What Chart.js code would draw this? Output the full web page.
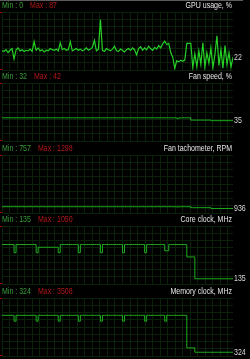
<!DOCTYPE html>
<html lang="en">
<head>
<meta charset="UTF-8" />
<title>Hardware monitor</title>
<style>
  html, body { margin: 0; padding: 0; background: #000; overflow: hidden; }
  body { width: 250px; height: 359px; position: relative; }
  canvas { position: absolute; left: 0; }
</style>
</head>
<body>
<canvas id="panel0" width="250" height="72"></canvas>
<canvas id="panel1" width="250" height="72"></canvas>
<canvas id="panel2" width="250" height="72"></canvas>
<canvas id="panel3" width="250" height="72"></canvas>
<canvas id="panel4" width="250" height="72"></canvas>

<script src="https://cdn.jsdelivr.net/npm/chart.js"></script>
<script>
// sample index (one reading every 2 px of history)
const samples = Array.from({ length: 116 }, (_, i) => i);

const titles = ['GPU usage, %', 'Fan speed, %', 'Fan tachometer, RPM', 'Core clock, MHz', 'Memory clock, MHz'];
const minVals = [0, 32, 757, 135, 324];
const maxVals = [87, 42, 1298, 1050, 3508];
const scaleMax = [100, 100, 12000, 1500, 5000];

const gpuUsage = [
  33, 32, 35, 30, 34, 37, 19, 35, 38, 33, 35, 32, 34, 33, 36, 32,
  49, 34, 38, 33, 35, 31, 34, 33, 37, 35, 34, 36, 33, 47, 35, 37,
  34, 35, 49, 33, 35, 37, 34, 36, 33, 35, 38, 34, 36, 39, 51, 33,
  36, 87, 34, 32, 37, 35, 33, 36, 41, 33, 32, 36, 34, 31, 35, 37,
  34, 38, 35, 26, 37, 40, 34, 38, 35, 41, 37, 34, 39, 36, 42, 38,
  45, 50, 44, 46, 30, 22, 3, 16, 14, 17, 15, 17, 46, 46, 46, 4,
  28, 6, 33, 10, 47, 5, 30, 12, 38, 4, 27, 59, 8, 35, 3, 42, 10, 30, 5, 22
];

const fanSpeed = [
  40, 40, 40, 40, 40, 40, 40, 40, 40, 40,
  40, 40, 40, 40, 40, 40, 40, 40, 40, 40,
  40, 40, 40, 40, 40, 40, 40, 40, 40, 40,
  40, 40, 40, 40, 40, 40, 40, 40, 40, 40,
  40, 40, 40, 40, 40, 40, 40, 40, 40, 40,
  40, 40, 40, 40, 40, 40, 40, 40, 40, 40,
  40, 40, 40, 40, 40, 40, 40, 40, 40, 40,
  40, 40, 40, 40, 40, 40, 40, 40, 40, 40,
  40, 40, 40, 40, 40, 40, 40, 39, 40, 40,
  40, 40, 40, 40, 36, 36, 36, 36, 36, 36,
  36, 36, 36, 36, 35, 35, 35, 35, 35, 35,
  35, 35, 35, 35, 35, 35
];

const fanTach = [
  1298, 1298, 1298, 1298, 1298, 1298, 1298, 1298, 1298, 1298,
  1298, 1298, 1298, 1298, 1298, 1298, 1298, 1298, 1298, 1298,
  1298, 1298, 1298, 1298, 1298, 1298, 1298, 1298, 1298, 1298,
  1298, 1298, 1298, 1298, 1298, 1298, 1298, 1298, 1298, 1298,
  1298, 1298, 1298, 1298, 1298, 1298, 1298, 1298, 1298, 1298,
  1298, 1298, 1298, 1298, 1298, 1298, 1298, 1298, 1298, 1298,
  1298, 1298, 1298, 1298, 1298, 1298, 1298, 1298, 1298, 1298,
  1298, 1298, 1298, 1298, 1298, 1298, 1298, 1298, 1298, 1298,
  1298, 1298, 1298, 1298, 1298, 1298, 1298, 1250, 1298, 1298,
  1298, 1298, 1298, 1298, 1100, 1100, 1100, 1100, 1100, 1100,
  1100, 1100, 1100, 1100, 936, 936, 936, 936, 936, 936,
  936, 936, 936, 936, 936, 936
];

const coreClock = [
  1020, 1020, 1020, 1020, 1020, 1020, 810,
  1020, 1020, 1020, 1020, 1020, 1020, 1020, 1020, 1020, 1020, 810,
  950, 950, 950, 950, 950, 950, 950, 950, 950, 950, 810,
  1020, 1020, 1020, 1020, 1020, 1020, 1020, 1020, 1020, 810,
  1020, 1020, 1020, 1020, 1020, 1020, 1020, 1020, 1020, 1020, 810,
  1020, 1020, 1020, 1020, 1020, 1020, 1020, 1020, 1020, 1020, 810,
  1020, 1020, 1020, 1020, 1020, 1020, 1020, 1020, 1020, 1020, 810,
  1020, 1020, 1020, 1020, 1020, 1020, 1020, 1020, 1020, 860, 860,
  1020, 1020, 1020, 1020, 1020, 1020, 1020, 1020, 1020,
  700, 700, 700, 700,
  135, 135, 135, 135, 135, 135, 135, 135, 135, 135,
  135, 135, 135, 135, 135, 135, 135, 135, 135, 135
];

const memoryClock = [
  3508, 3508, 3508, 3508, 3508, 3508, 3000,
  3508, 3508, 3508, 3508, 3508, 3508, 3508, 3508, 3508, 3508, 3000,
  3508, 3508, 3508, 3508, 3508, 3508, 3508, 3508, 3508, 3508, 3000,
  3508, 3508, 3508, 3508, 3508, 3508, 3508, 3508, 3508, 3000,
  3508, 3508, 3508, 3508, 3508, 3508, 3508, 3508, 3508, 3508, 3000,
  3508, 3508, 3508, 3508, 3508, 3508, 3508, 3508, 3508, 3508, 3000,
  3508, 3508, 3508, 3508, 3508, 3508, 3508, 3508, 3508, 3508, 3000,
  3508, 3508, 3508, 3508, 3508, 3508, 3508, 3508, 3508, 3000,
  3508, 3508, 3508, 3508, 3508, 3508, 3508, 3508, 3508, 3508,
  700, 700, 700, 700,
  324, 324, 324, 324, 324, 324, 324, 324, 324, 324,
  324, 324, 324, 324, 324, 324, 324, 324, 324, 324
];

const series = [gpuUsage, fanSpeed, fanTach, coreClock, memoryClock];
const stepped = [false, 'before', 'before', 'before', 'before'];

// layout / look
const panelTops = [0, 71, 143, 214, 286];
const lineColors = ['#26d026', '#1fae1f', '#1fae1f', '#1fae1f', '#1fae1f'];
const gridColor = '#092209';
const SX = 0.78; // the monitor font is narrow
const FONT = '9px "Liberation Sans", Arial, sans-serif';

const monitorText = {
  id: 'monitorText',
  afterDraw(chart) {
    const k = chart.options.plugins.monitorText.index;
    const ctx = chart.ctx;
    const area = chart.chartArea;

    ctx.save();
    ctx.font = FONT;
    ctx.textBaseline = 'middle';
    ctx.scale(SX, 1);
    const minText = 'Min : ' + minVals[k];
    ctx.textAlign = 'left';
    ctx.fillStyle = '#3a9e3a';
    ctx.fillText(minText, 2 / SX, 6);
    const w = ctx.measureText(minText).width * SX;
    ctx.fillStyle = '#b01818';
    ctx.fillText('Max : ' + maxVals[k], (2 + w + 7) / SX, 6);
    ctx.textAlign = 'right';
    ctx.fillStyle = '#e6e6e6';
    ctx.fillText(titles[k], 232 / SX, 6);

    const data = series[k];
    const last = data[data.length - 1];
    const y = chart.scales.y.getPixelForValue(last);
    ctx.textAlign = 'left';
    ctx.fillStyle = '#d8d8d8';
    ctx.fillText(String(last), (area.right + 1) / SX, y);
    ctx.restore();

    // little red marks at the scale ends
    ctx.fillStyle = '#b00000';
    ctx.fillRect(0, area.top, 2, 1);
    ctx.fillRect(0, area.bottom - 1, 2, 1);
    if (k === 0) {
      ctx.fillStyle = '#5c5c5c';
      ctx.fillRect(0, 0, 243, 1);
    }
  }
};

function makePanel(k) {
  const el = document.getElementById('panel' + k);
  el.style.top = panelTops[k] + 'px';
  const top = scaleMax[k];
  return new Chart(el, {
    type: 'line',
    data: {
      labels: samples,
      datasets: [{
        data: series[k],
        borderColor: lineColors[k],
        borderWidth: k === 0 ? 1.2 : 1,
        pointRadius: 0,
        tension: 0,
        stepped: stepped[k],
        fill: false
      }]
    },
    options: {
      responsive: false,
      animation: false,
      events: [],
      layout: { padding: { left: 2, right: 17, top: 12, bottom: 2 } },
      plugins: {
        legend: { display: false },
        tooltip: { enabled: false },
        monitorText: { index: k }
      },
      scales: {
        x: {
          type: 'linear',
          min: 0,
          max: samples.length - 1,
          ticks: { display: false },
          grid: { color: gridColor, drawTicks: false, lineWidth: 1 },
          border: { display: false },
          afterBuildTicks: s => {
            const t = [];
            for (let v = 0; v <= s.max; v += 3.75) t.push({ value: v });
            s.ticks = t;
          }
        },
        y: {
          min: 0,
          max: top,
          ticks: { display: false },
          grid: { color: gridColor, drawTicks: false, lineWidth: 1 },
          border: { display: false },
          afterBuildTicks: s => {
            const t = [];
            for (let j = 0; j <= 8; j++) t.push({ value: top * j / 8 });
            s.ticks = t;
          }
        }
      }
    },
    plugins: [monitorText]
  });
}

for (let k = 0; k < 5; k++) makePanel(k);
</script>
</body>
</html>
